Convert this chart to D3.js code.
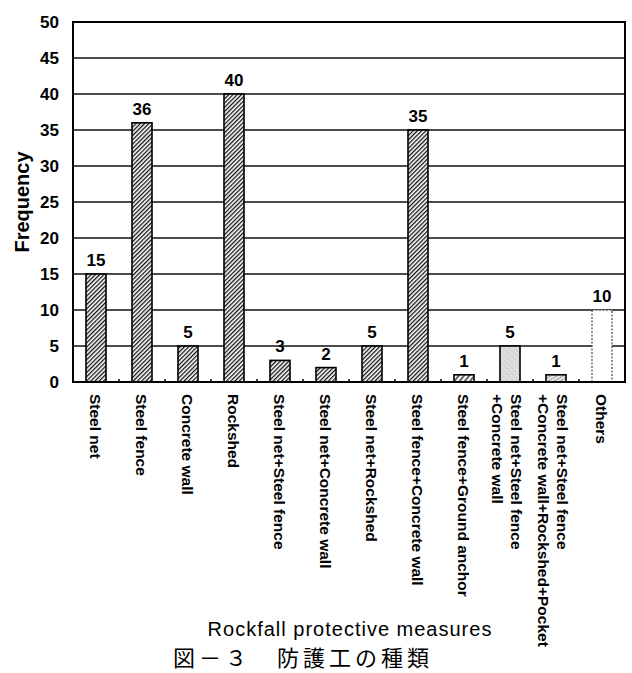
<!DOCTYPE html>
<html>
<head>
<meta charset="utf-8">
<script src="https://cdn.jsdelivr.net/npm/d3@7"></script>
<style>
  body { margin: 0; background: #fff; }
  svg { display: block; }
</style>
</head>
<body>
<script>
// Data
const categories = [
    ["Steel net"],
    ["Steel fence"],
    ["Concrete wall"],
    ["Rockshed"],
    ["Steel net+Steel fence"],
    ["Steel net+Concrete wall"],
    ["Steel net+Rockshed"],
    ["Steel fence+Concrete wall"],
    ["Steel fence+Ground anchor"],
    ["Steel net+Steel fence", "+Concrete wall"],
    ["Steel net+Steel fence", "+Concrete wall+Rockshed+Pocket"],
    ["Others"]
]
const frequency = [15, 36, 5, 40, 3, 2, 5, 35, 1, 5, 1, 10]
const fills = ["hatch", "hatch", "hatch", "hatch", "hatch", "hatch", "hatch", "hatch",
               "hatchWide", "stipple", "dotHatch", "blank"]
const yTicks = [0, 5, 10, 15, 20, 25, 30, 35, 40, 45, 50]
const yTitle = "Frequency"
const xTitle = "Rockfall protective measures"
const caption = "図－３　防護工の種類"

// Main
let main = () => {
    const width = 632
    const height = 673
    const left = 73, right = 625, top = 22, bottom = 382
    const font = "'Liberation Sans', Arial, sans-serif"

    let svg = d3.select("body")
        .append("svg")
        .attr("width", width)
        .attr("height", height)

    // Fill patterns
    let defs = svg.append("defs")
    let hatch = defs.append("pattern")
        .attr("id", "hatch").attr("patternUnits", "userSpaceOnUse")
        .attr("width", 3).attr("height", 3)
        .attr("patternTransform", "rotate(45)")
    hatch.append("rect").attr("width", 3).attr("height", 3).attr("fill", "#fff")
    hatch.append("line").attr("x1", 0.6).attr("y1", 0).attr("x2", 0.6).attr("y2", 3)
        .attr("stroke", "#111").attr("stroke-width", 1.4)

    let hatchWide = defs.append("pattern")
        .attr("id", "hatchWide").attr("patternUnits", "userSpaceOnUse")
        .attr("width", 4).attr("height", 4)
        .attr("patternTransform", "rotate(40)")
    hatchWide.append("rect").attr("width", 4).attr("height", 4).attr("fill", "#fff")
    hatchWide.append("line").attr("x1", 1).attr("y1", 0).attr("x2", 1).attr("y2", 4)
        .attr("stroke", "#222").attr("stroke-width", 1.4)

    let stipple = defs.append("pattern")
        .attr("id", "stipple").attr("patternUnits", "userSpaceOnUse")
        .attr("width", 4).attr("height", 4)
        .attr("patternTransform", "rotate(45)")
    stipple.append("rect").attr("width", 4).attr("height", 4).attr("fill", "#e6e6e6")
    stipple.append("line").attr("x1", 1).attr("y1", 0).attr("x2", 1).attr("y2", 4)
        .attr("stroke", "#aaa").attr("stroke-width", 0.8).attr("stroke-dasharray", "1,1")
    stipple.append("circle").attr("cx", 3).attr("cy", 2).attr("r", 0.5).attr("fill", "#777")

    let dotHatch = defs.append("pattern")
        .attr("id", "dotHatch").attr("patternUnits", "userSpaceOnUse")
        .attr("width", 3).attr("height", 3)
        .attr("patternTransform", "rotate(60)")
    dotHatch.append("rect").attr("width", 3).attr("height", 3).attr("fill", "#fff")
    dotHatch.append("line").attr("x1", 1).attr("y1", 0).attr("x2", 1).attr("y2", 3)
        .attr("stroke", "#444").attr("stroke-width", 1).attr("stroke-dasharray", "1.5,0.8")

    // Scales
    let xScale = d3.scaleBand()
        .domain(d3.range(categories.length))
        .range([left, right])
        .paddingInner(0.565)
        .paddingOuter(0.2825)
    let yScale = d3.scaleLinear()
        .domain([0, 50])
        .range([bottom, top])

    // Grid lines
    svg.append("g")
        .selectAll("line")
        .data(yTicks.filter(d => d > 0 && d < 50))
        .enter().append("line")
        .attr("x1", left).attr("x2", right)
        .attr("y1", d => yScale(d)).attr("y2", d => yScale(d))
        .attr("stroke", "#111")
        .attr("stroke-width", 1.5)

    // Y axis labels
    let yAxis = svg.append("g")
        .attr("transform", `translate(${left}, 0)`)
        .call(d3.axisLeft(yScale).tickValues(yTicks).tickSize(0).tickPadding(14))
    yAxis.select(".domain").remove()
    yAxis.selectAll("text")
        .style("font-family", font)
        .style("font-size", "17px")
        .style("font-weight", "bold")
        .attr("fill", "#000")

    // Bars
    svg.selectAll(".bar")
        .data(frequency).enter().append("rect")
        .attr("class", "bar")
        .attr("x", (d, i) => xScale(i))
        .attr("y", d => yScale(d))
        .attr("width", xScale.bandwidth())
        .attr("height", d => yScale(0) - yScale(d))
        .attr("fill", (d, i) => fills[i] === "blank" ? "#fff" : `url(#${fills[i]})`)
        .attr("stroke", (d, i) => fills[i] === "blank" ? "#555" : "#000")
        .attr("stroke-width", (d, i) => fills[i] === "blank" ? 1.3 : 1.6)
        .attr("stroke-dasharray", (d, i) => fills[i] === "blank" ? "2,1.5" : null)

    // Value labels
    svg.selectAll(".value")
        .data(frequency).enter().append("text")
        .attr("class", "value")
        .attr("x", (d, i) => xScale(i) + xScale.bandwidth() / 2)
        .attr("y", d => yScale(d) - 8)
        .attr("text-anchor", "middle")
        .style("font-family", font)
        .style("font-size", "17px")
        .style("font-weight", "bold")
        .text(d => d)

    // Frame
    svg.append("rect")
        .attr("x", left).attr("y", top)
        .attr("width", right - left).attr("height", bottom - top)
        .attr("fill", "none")
        .attr("stroke", "#000")
        .attr("stroke-width", 2)

    // Small ticks on the category axis, at band edges
    const step = xScale.step()
    svg.append("g")
        .selectAll("line")
        .data(d3.range(1, categories.length))
        .enter().append("line")
        .attr("x1", i => xScale(i) - (step - xScale.bandwidth()) / 2)
        .attr("x2", i => xScale(i) - (step - xScale.bandwidth()) / 2)
        .attr("y1", bottom).attr("y2", bottom - 3)
        .attr("stroke", "#000").attr("stroke-width", 1.5)

    // Category labels (rotated, reading downwards)
    categories.forEach((lines, i) => {
        const cx = xScale(i) + xScale.bandwidth() / 2
        lines.forEach((t, j) => {
            const off = lines.length === 1 ? -1 : (j === 0 ? 6 : -13)
            svg.append("text")
                .attr("transform", `translate(${cx + off}, ${bottom + 12}) rotate(90)`)
                .attr("dy", "0.35em")
                .style("font-family", font)
                .style("font-size", "15.5px")
                .style("font-weight", "bold")
                .text(t)
        })
    })

    // Y title
    svg.append("text")
        .attr("transform", `translate(29, ${(top + bottom) / 2}) rotate(-90)`)
        .attr("text-anchor", "middle")
        .style("font-family", font)
        .style("font-size", "20px")
        .style("font-weight", "bold")
        .text(yTitle)

    // X title
    svg.append("text")
        .attr("x", 350)
        .attr("y", 636)
        .attr("text-anchor", "middle")
        .style("font-family", font)
        .style("font-size", "20px")
        .style("letter-spacing", "1px")
        .text(xTitle)

    // Caption
    svg.append("text")
        .attr("x", 173)
        .attr("y", 666)
        .style("font-family", "'Noto Sans CJK JP', sans-serif")
        .style("font-size", "22px")
        .style("letter-spacing", "4px")
        .text(caption)
}

main()
</script>
</body>
</html>
